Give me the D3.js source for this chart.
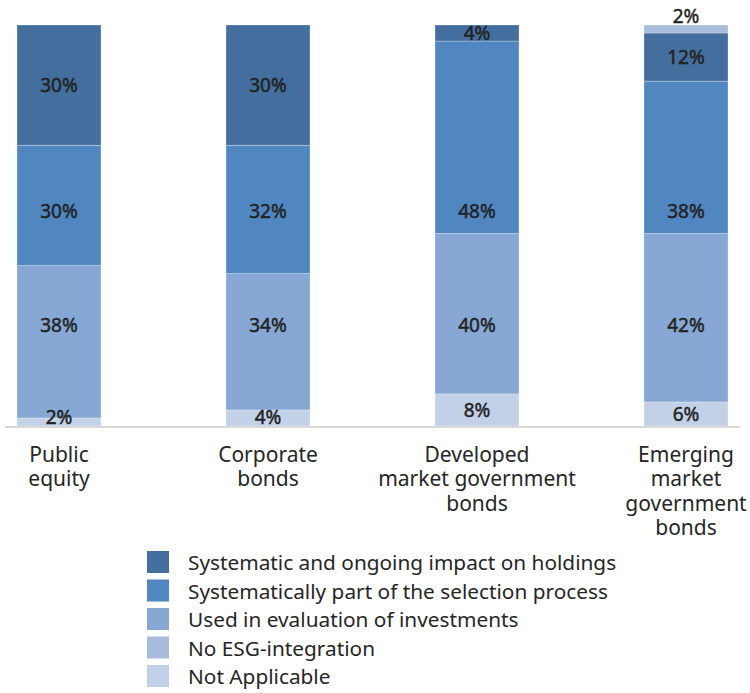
<!DOCTYPE html>
<html>
<head>
<meta charset="utf-8">
<script src="https://cdn.jsdelivr.net/npm/d3@7"></script>
<style>
  body { margin: 0; background: #fff; }
  text { font-family: "Noto Sans", "Open Sans", sans-serif; }
</style>
</head>
<body>
<svg id="chart"></svg>
<script>
var categories = ["Public equity", "Corporate bonds", "Developed market government bonds", "Emerging market government bonds"];
var categoryLines = [["Public", "equity"], ["Corporate", "bonds"], ["Developed", "market government", "bonds"], ["Emerging", "market", "government", "bonds"]];

// stacked bottom -> top
var notApplicable = [2, 4, 8, 6];
var usedInEvaluation = [38, 34, 40, 42];
var selectionProcess = [30, 32, 48, 38];
var systematicImpact = [30, 30, 4, 12];
var noEsgIntegration = [0, 0, 0, 2];

var seriesNames = ["Systematic and ongoing impact on holdings", "Systematically part of the selection process", "Used in evaluation of investments", "No ESG-integration", "Not Applicable"];
var seriesColors = ["#436e9d", "#5087c1", "#87a8d4", "#a8bcdc", "#c2d1e8"];

var width = 750, height = 693;

var rows = categories.map(function(c, i) {
  return {
    cat: c,
    na: notApplicable[i],
    used: usedInEvaluation[i],
    sel: selectionProcess[i],
    sys: systematicImpact[i],
    noesg: noEsgIntegration[i]
  };
});
var keys = ["na", "used", "sel", "sys", "noesg"];
var keyColor = { sys: seriesColors[0], sel: seriesColors[1], used: seriesColors[2], noesg: seriesColors[3], na: seriesColors[4] };
// the original pins the labels of the two middle series at a fixed height (in % units)
var labelLevel = { used: 25.2, sel: 53.7 };

var svg = d3.select("#chart").attr("width", width).attr("height", height);

var x = d3.scaleBand()
  .domain(categories)
  .range([5, 740])
  .paddingInner(0.598)
  .paddingOuter(0.0574);

var y = d3.scaleLinear().domain([0, 100]).range([426, 25]);

var stacked = d3.stack().keys(keys)(rows);

var segments = [];
stacked.forEach(function(layer) {
  layer.forEach(function(s) {
    if (s[1] - s[0] > 0) segments.push({ key: layer.key, cat: s.data.cat, y0: s[0], y1: s[1] });
  });
});

svg.append("g").selectAll("rect")
  .data(segments)
  .enter().append("rect")
  .attr("x", function(d) { return x(d.cat); })
  .attr("width", x.bandwidth())
  .attr("y", function(d) { return y(d.y1); })
  .attr("height", function(d) { return y(d.y0) - y(d.y1); })
  .attr("fill", function(d) { return keyColor[d.key]; })
  .attr("stroke", "#ffffff")
  .attr("stroke-opacity", 0.35)
  .attr("stroke-width", 0.8);

// axis line
svg.append("line")
  .attr("x1", 5).attr("x2", 740)
  .attr("y1", y(0) + 1).attr("y2", y(0) + 1)
  .attr("stroke", "#d9d9d9")
  .attr("stroke-width", 2);

// value labels
svg.append("g").selectAll("text")
  .data(segments)
  .enter().append("text")
  .attr("x", function(d) { return x(d.cat) + x.bandwidth() / 2; })
  .attr("y", function(d) {
    var v = d.y1 - d.y0;
    if (labelLevel[d.key] !== undefined) return y(labelLevel[d.key]);
    if (v < 3 && d.y1 >= 100) return y(100) - 9;
    return Math.min((y(d.y0) + y(d.y1)) / 2, y(0) - 9);
  })
  .attr("text-anchor", "middle")
  .attr("dominant-baseline", "central")
  .attr("fill", "#222")
  .attr("stroke", "#222")
  .attr("stroke-width", 0.45)
  .style("font-size", "19px")
  .text(function(d) { return (d.y1 - d.y0) + "%"; });

// category labels
var catG = svg.append("g").selectAll("text")
  .data(categories)
  .enter().append("text")
  .attr("text-anchor", "middle")
  .attr("fill", "#262626")
  .style("font-size", "21px")
  .attr("transform", function(d) { return "translate(" + (x(d) + x.bandwidth() / 2) + ",462)"; });

catG.selectAll("tspan")
  .data(function(d, i) { return categoryLines[i]; })
  .enter().append("tspan")
  .attr("x", 0)
  .attr("y", function(d, i) { return i * 24.3; })
  .text(function(d) { return d; });

// legend
var legend = svg.append("g").selectAll("g")
  .data(seriesNames)
  .enter().append("g")
  .attr("transform", function(d, i) { return "translate(147," + (551 + i * 28.5) + ")"; });

legend.append("rect")
  .attr("width", 22)
  .attr("height", 22)
  .attr("fill", function(d, i) { return seriesColors[i]; });

legend.append("text")
  .attr("x", 41)
  .attr("y", 11)
  .attr("dominant-baseline", "central")
  .attr("fill", "#262626")
  .style("font-size", "20.8px")
  .text(function(d) { return d; });
</script>
</body>
</html>
